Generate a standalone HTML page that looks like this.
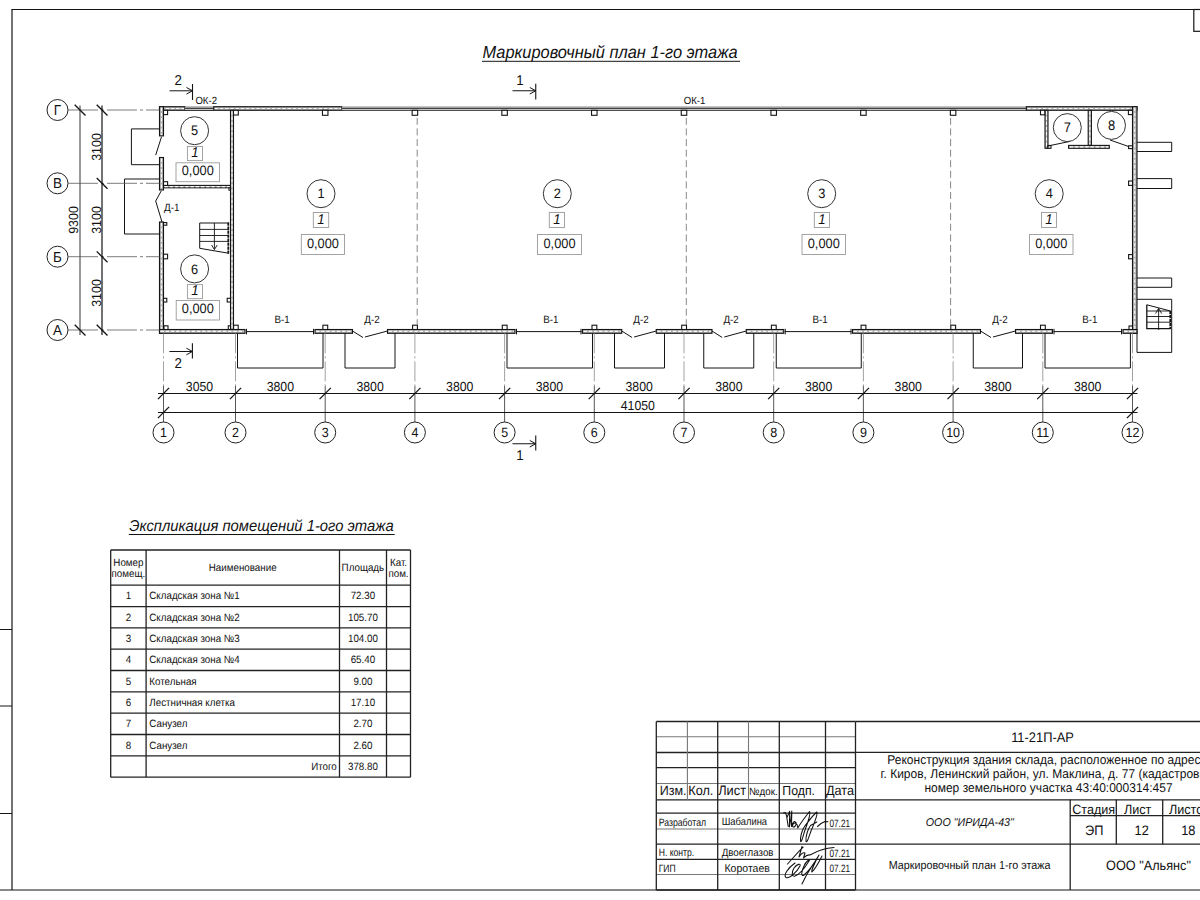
<!DOCTYPE html>
<html><head><meta charset="utf-8">
<style>
html,body{margin:0;padding:0;background:#fff;}
body{width:1200px;height:900px;overflow:hidden;position:relative;font-family:"Liberation Sans",sans-serif;}
svg{position:absolute;left:0;top:0;}
</style></head><body>
<svg width="1200" height="900" viewBox="0 0 1200 900" font-family="Liberation Sans, sans-serif" text-rendering="geometricPrecision">
<line x1="11.4" y1="9.5" x2="1200" y2="9.5" stroke="#141414" stroke-width="1.2" />
<line x1="12" y1="9.5" x2="12" y2="890" stroke="#141414" stroke-width="1.2" />
<line x1="0" y1="890" x2="1200" y2="890" stroke="#141414" stroke-width="1.2" />
<line x1="0" y1="629.5" x2="12" y2="629.5" stroke="#141414" stroke-width="1" />
<line x1="0" y1="706" x2="12" y2="706" stroke="#141414" stroke-width="1" />
<line x1="0" y1="813.5" x2="12" y2="813.5" stroke="#141414" stroke-width="1" />
<rect x="1193.8" y="9.5" width="20" height="21.8" stroke="#141414" stroke-width="1.2" fill="none" />
<text x="0" y="0" font-size="16.4" text-anchor="start" fill="#111" transform="translate(482.5 58.1) scale(1 1.07)" font-style="italic">Маркировочный план 1-го этажа</text>
<line x1="482" y1="61.3" x2="740" y2="61.3" stroke="#141414" stroke-width="1" />
<rect x="159.5" y="106.7" width="25.5" height="3.5999999999999943" stroke="#141414" stroke-width="1.1" fill="#b0b0b0" />
<line x1="160.5" y1="108.5" x2="184" y2="108.5" stroke="#fafafa" stroke-width="1.1" stroke-dasharray="3.4,1.8"/>
<rect x="185" y="106.7" width="28.75" height="3.5999999999999943" fill="#fff"/>
<line x1="185" y1="107.0" x2="213.75" y2="107.0" stroke="#8a8a8a" stroke-width="1.1" />
<line x1="185" y1="108.3" x2="213.75" y2="108.3" stroke="#141414" stroke-width="1" />
<line x1="185" y1="110.3" x2="213.75" y2="110.3" stroke="#141414" stroke-width="1.1" />
<rect x="213.75" y="106.7" width="128.25" height="3.5999999999999943" stroke="#141414" stroke-width="1.1" fill="#b0b0b0" />
<line x1="214.75" y1="108.5" x2="341" y2="108.5" stroke="#fafafa" stroke-width="1.1" stroke-dasharray="3.4,1.8"/>
<rect x="342" y="106.7" width="684.4000000000001" height="3.5999999999999943" fill="#fff"/>
<line x1="342" y1="107.0" x2="1026.4" y2="107.0" stroke="#8a8a8a" stroke-width="1.1" />
<line x1="342" y1="108.3" x2="1026.4" y2="108.3" stroke="#141414" stroke-width="1" />
<line x1="342" y1="110.3" x2="1026.4" y2="110.3" stroke="#141414" stroke-width="1.1" />
<rect x="1026.4" y="106.7" width="110.59999999999991" height="3.5999999999999943" stroke="#141414" stroke-width="1.1" fill="#b0b0b0" />
<line x1="1027.4" y1="108.5" x2="1136" y2="108.5" stroke="#fafafa" stroke-width="1.1" stroke-dasharray="3.4,1.8"/>
<rect x="159.5" y="106.7" width="4.0" height="29.200000000000003" stroke="#141414" stroke-width="1.1" fill="#b0b0b0" />
<line x1="161.5" y1="107.7" x2="161.5" y2="134.9" stroke="#fafafa" stroke-width="1.1" stroke-dasharray="3.4,1.8"/>
<rect x="159.5" y="157.5" width="4.0" height="32.5" stroke="#141414" stroke-width="1.1" fill="#b0b0b0" />
<line x1="161.5" y1="158.5" x2="161.5" y2="189" stroke="#fafafa" stroke-width="1.1" stroke-dasharray="3.4,1.8"/>
<rect x="159.5" y="222" width="4.0" height="111.30000000000001" stroke="#141414" stroke-width="1.1" fill="#b0b0b0" />
<line x1="161.5" y1="223" x2="161.5" y2="332.3" stroke="#fafafa" stroke-width="1.1" stroke-dasharray="3.4,1.8"/>
<rect x="1132.5" y="106.7" width="4.5" height="226.60000000000002" stroke="#141414" stroke-width="1.1" fill="#b0b0b0" />
<line x1="1134.75" y1="107.7" x2="1134.75" y2="332.3" stroke="#fafafa" stroke-width="1.1" stroke-dasharray="3.4,1.8"/>
<rect x="159.5" y="329.5" width="85.5" height="3.8000000000000114" stroke="#141414" stroke-width="1.1" fill="#b0b0b0" />
<line x1="160.5" y1="331.4" x2="244" y2="331.4" stroke="#fafafa" stroke-width="1.1" stroke-dasharray="3.4,1.8"/>
<line x1="246" y1="331.6" x2="314" y2="331.6" stroke="#141414" stroke-width="1" />
<line x1="246.5" y1="328.8" x2="246.5" y2="334.4" stroke="#141414" stroke-width="1" />
<line x1="313.5" y1="328.8" x2="313.5" y2="334.4" stroke="#141414" stroke-width="1" />
<rect x="315" y="329.5" width="37.5" height="3.8000000000000114" stroke="#141414" stroke-width="1.1" fill="#b0b0b0" />
<line x1="316" y1="331.4" x2="351.5" y2="331.4" stroke="#fafafa" stroke-width="1.1" stroke-dasharray="3.4,1.8"/>
<polyline points="352.5,331 363.0,337.5" stroke="#141414" stroke-width="1" fill="none"/>
<polyline points="365.0,337 387.5,331" stroke="#141414" stroke-width="1" fill="none"/>
<rect x="387.5" y="329.5" width="127.5" height="3.8000000000000114" stroke="#141414" stroke-width="1.1" fill="#b0b0b0" />
<line x1="388.5" y1="331.4" x2="514" y2="331.4" stroke="#fafafa" stroke-width="1.1" stroke-dasharray="3.4,1.8"/>
<line x1="516" y1="331.6" x2="581.5" y2="331.6" stroke="#141414" stroke-width="1" />
<line x1="516.5" y1="328.8" x2="516.5" y2="334.4" stroke="#141414" stroke-width="1" />
<line x1="581.0" y1="328.8" x2="581.0" y2="334.4" stroke="#141414" stroke-width="1" />
<rect x="582.5" y="329.5" width="39.25" height="3.8000000000000114" stroke="#141414" stroke-width="1.1" fill="#b0b0b0" />
<line x1="583.5" y1="331.4" x2="620.75" y2="331.4" stroke="#fafafa" stroke-width="1.1" stroke-dasharray="3.4,1.8"/>
<polyline points="621.75,331 632.1,337.5" stroke="#141414" stroke-width="1" fill="none"/>
<polyline points="634.1,337 656.25,331" stroke="#141414" stroke-width="1" fill="none"/>
<rect x="656.25" y="329.5" width="55.75" height="3.8000000000000114" stroke="#141414" stroke-width="1.1" fill="#b0b0b0" />
<line x1="657.25" y1="331.4" x2="711" y2="331.4" stroke="#fafafa" stroke-width="1.1" stroke-dasharray="3.4,1.8"/>
<polyline points="712,331 722.275,337.5" stroke="#141414" stroke-width="1" fill="none"/>
<polyline points="724.275,337 746.25,331" stroke="#141414" stroke-width="1" fill="none"/>
<rect x="746.25" y="329.5" width="37.5" height="3.8000000000000114" stroke="#141414" stroke-width="1.1" fill="#b0b0b0" />
<line x1="747.25" y1="331.4" x2="782.75" y2="331.4" stroke="#fafafa" stroke-width="1.1" stroke-dasharray="3.4,1.8"/>
<line x1="784.75" y1="331.6" x2="851.5" y2="331.6" stroke="#141414" stroke-width="1" />
<line x1="785.25" y1="328.8" x2="785.25" y2="334.4" stroke="#141414" stroke-width="1" />
<line x1="851.0" y1="328.8" x2="851.0" y2="334.4" stroke="#141414" stroke-width="1" />
<rect x="852.5" y="329.5" width="128.0" height="3.8000000000000114" stroke="#141414" stroke-width="1.1" fill="#b0b0b0" />
<line x1="853.5" y1="331.4" x2="979.5" y2="331.4" stroke="#fafafa" stroke-width="1.1" stroke-dasharray="3.4,1.8"/>
<polyline points="980.5,331 991.0,337.5" stroke="#141414" stroke-width="1" fill="none"/>
<polyline points="993.0,337 1015.5,331" stroke="#141414" stroke-width="1" fill="none"/>
<rect x="1015.5" y="329.5" width="37.0" height="3.8000000000000114" stroke="#141414" stroke-width="1.1" fill="#b0b0b0" />
<line x1="1016.5" y1="331.4" x2="1051.5" y2="331.4" stroke="#fafafa" stroke-width="1.1" stroke-dasharray="3.4,1.8"/>
<line x1="1053.5" y1="331.6" x2="1122" y2="331.6" stroke="#141414" stroke-width="1" />
<line x1="1054.0" y1="328.8" x2="1054.0" y2="334.4" stroke="#141414" stroke-width="1" />
<line x1="1121.5" y1="328.8" x2="1121.5" y2="334.4" stroke="#141414" stroke-width="1" />
<rect x="1123" y="329.5" width="14" height="3.8000000000000114" stroke="#141414" stroke-width="1.1" fill="#b0b0b0" />
<line x1="1124" y1="331.4" x2="1136" y2="331.4" stroke="#fafafa" stroke-width="1.1" stroke-dasharray="3.4,1.8"/>
<text x="0" y="0" font-size="9.8" text-anchor="middle" fill="#111" transform="translate(282.0 323) scale(1 1.07)" >В-1</text>
<text x="0" y="0" font-size="9.8" text-anchor="middle" fill="#111" transform="translate(372.0 323) scale(1 1.07)" >Д-2</text>
<text x="0" y="0" font-size="9.8" text-anchor="middle" fill="#111" transform="translate(550.75 323) scale(1 1.07)" >В-1</text>
<text x="0" y="0" font-size="9.8" text-anchor="middle" fill="#111" transform="translate(641.0 323) scale(1 1.07)" >Д-2</text>
<text x="0" y="0" font-size="9.8" text-anchor="middle" fill="#111" transform="translate(731.125 323) scale(1 1.07)" >Д-2</text>
<text x="0" y="0" font-size="9.8" text-anchor="middle" fill="#111" transform="translate(820.125 323) scale(1 1.07)" >В-1</text>
<text x="0" y="0" font-size="9.8" text-anchor="middle" fill="#111" transform="translate(1000.0 323) scale(1 1.07)" >Д-2</text>
<text x="0" y="0" font-size="9.8" text-anchor="middle" fill="#111" transform="translate(1089.75 323) scale(1 1.07)" >В-1</text>
<rect x="230.5" y="110.3" width="3.0" height="219.2" stroke="#141414" stroke-width="1.1" fill="#b0b0b0" />
<line x1="232.0" y1="111.3" x2="232.0" y2="328.5" stroke="#fafafa" stroke-width="1.1" stroke-dasharray="3.4,1.8"/>
<rect x="163.5" y="185.4" width="67.0" height="2.4000000000000057" stroke="#141414" stroke-width="1.1" fill="#b0b0b0" />
<line x1="164.5" y1="186.60000000000002" x2="229.5" y2="186.60000000000002" stroke="#fafafa" stroke-width="1.1" stroke-dasharray="3.4,1.8"/>
<rect x="1045" y="110.3" width="3" height="38.000000000000014" stroke="#141414" stroke-width="1.1" fill="#b0b0b0" />
<line x1="1046.5" y1="111.3" x2="1046.5" y2="147.3" stroke="#fafafa" stroke-width="1.1" stroke-dasharray="3.4,1.8"/>
<rect x="1088.2" y="110.3" width="3.2000000000000455" height="35.10000000000001" stroke="#141414" stroke-width="1.1" fill="#b0b0b0" />
<line x1="1089.8000000000002" y1="111.3" x2="1089.8000000000002" y2="144.4" stroke="#fafafa" stroke-width="1.1" stroke-dasharray="3.4,1.8"/>
<rect x="1068.6" y="145.4" width="40.700000000000045" height="2.9000000000000057" stroke="#141414" stroke-width="1.1" fill="#b0b0b0" />
<line x1="1069.6" y1="146.85000000000002" x2="1108.3" y2="146.85000000000002" stroke="#fafafa" stroke-width="1.1" stroke-dasharray="3.4,1.8"/>
<rect x="163.5" y="110.3" width="4.099999999999994" height="4.299999999999997" stroke="#141414" stroke-width="1.1" fill="#fff" />
<rect x="233.5" y="110.3" width="4.800000000000011" height="4.700000000000003" stroke="#141414" stroke-width="1.1" fill="#fff" />
<rect x="322.45" y="110.3" width="5.5" height="5.0" stroke="#141414" stroke-width="1.1" fill="#fff" />
<rect x="412.15" y="110.3" width="5.5" height="5.0" stroke="#141414" stroke-width="1.1" fill="#fff" />
<rect x="501.85" y="110.3" width="5.5" height="5.0" stroke="#141414" stroke-width="1.1" fill="#fff" />
<rect x="591.55" y="110.3" width="5.5" height="5.0" stroke="#141414" stroke-width="1.1" fill="#fff" />
<rect x="681.25" y="110.3" width="5.5" height="5.0" stroke="#141414" stroke-width="1.1" fill="#fff" />
<rect x="770.95" y="110.3" width="5.5" height="5.0" stroke="#141414" stroke-width="1.1" fill="#fff" />
<rect x="860.65" y="110.3" width="5.5" height="5.0" stroke="#141414" stroke-width="1.1" fill="#fff" />
<rect x="950.35" y="110.3" width="5.5" height="5.0" stroke="#141414" stroke-width="1.1" fill="#fff" />
<rect x="1040.5" y="110.3" width="4.2999999999999545" height="4.5" stroke="#141414" stroke-width="1.1" fill="#fff" />
<rect x="1128.4" y="110.3" width="4.099999999999909" height="4.299999999999997" stroke="#141414" stroke-width="1.1" fill="#fff" />
<rect x="164" y="325.8" width="4" height="3.6999999999999886" stroke="#141414" stroke-width="1.1" fill="#fff" />
<rect x="228.3" y="325.8" width="2.1999999999999886" height="3.6999999999999886" stroke="#141414" stroke-width="1.1" fill="#fff" />
<rect x="233.6" y="325.2" width="4.599999999999994" height="4.300000000000011" stroke="#141414" stroke-width="1.1" fill="#fff" />
<rect x="322.9" y="325.2" width="4.800000000000011" height="4.300000000000011" stroke="#141414" stroke-width="1.1" fill="#fff" />
<rect x="412.59999999999997" y="325.2" width="4.800000000000011" height="4.300000000000011" stroke="#141414" stroke-width="1.1" fill="#fff" />
<rect x="502.3" y="325.2" width="4.800000000000011" height="4.300000000000011" stroke="#141414" stroke-width="1.1" fill="#fff" />
<rect x="592.0" y="325.2" width="4.7999999999999545" height="4.300000000000011" stroke="#141414" stroke-width="1.1" fill="#fff" />
<rect x="681.7" y="325.2" width="4.7999999999999545" height="4.300000000000011" stroke="#141414" stroke-width="1.1" fill="#fff" />
<rect x="771.4000000000001" y="325.2" width="4.7999999999999545" height="4.300000000000011" stroke="#141414" stroke-width="1.1" fill="#fff" />
<rect x="861.1" y="325.2" width="4.7999999999999545" height="4.300000000000011" stroke="#141414" stroke-width="1.1" fill="#fff" />
<rect x="950.8000000000001" y="325.2" width="4.7999999999999545" height="4.300000000000011" stroke="#141414" stroke-width="1.1" fill="#fff" />
<rect x="1040.5000000000002" y="325.2" width="4.7999999999999545" height="4.300000000000011" stroke="#141414" stroke-width="1.1" fill="#fff" />
<rect x="1129" y="326" width="3.5" height="3.5" stroke="#141414" stroke-width="1.1" fill="#fff" />
<rect x="163.5" y="181.7" width="4.099999999999994" height="3.700000000000017" stroke="#141414" stroke-width="1.1" fill="#fff" />
<rect x="163.5" y="222.6" width="3.3000000000000114" height="2.5999999999999943" stroke="#141414" stroke-width="1.1" fill="#fff" />
<rect x="163.5" y="254.2" width="4.099999999999994" height="4.600000000000023" stroke="#141414" stroke-width="1.1" fill="#fff" />
<rect x="1128.6" y="181" width="3.900000000000091" height="4.400000000000006" stroke="#141414" stroke-width="1.1" fill="#fff" />
<rect x="1128.6" y="254.6" width="3.900000000000091" height="4.200000000000017" stroke="#141414" stroke-width="1.1" fill="#fff" />
<rect x="229" y="187.8" width="1.5" height="2.3999999999999773" stroke="#141414" stroke-width="1.1" fill="#fff" />
<rect x="163.5" y="298.3" width="3.3000000000000114" height="3.6999999999999886" stroke="#141414" stroke-width="1.1" fill="#fff" />
<rect x="227.2" y="298.3" width="3.3000000000000114" height="3.6999999999999886" stroke="#141414" stroke-width="1.1" fill="#fff" />
<rect x="1128.6" y="145.8" width="3.900000000000091" height="2.799999999999983" stroke="#141414" stroke-width="1.1" fill="#fff" />
<rect x="1048" y="145.5" width="3" height="2.8000000000000114" stroke="#141414" stroke-width="1.1" fill="#fff" />
<line x1="417.2" y1="117.8" x2="417.2" y2="325" stroke="#7a7a7a" stroke-width="0.9" stroke-dasharray="7,3.6"/>
<line x1="686.3" y1="117.8" x2="686.3" y2="325" stroke="#7a7a7a" stroke-width="0.9" stroke-dasharray="7,3.6"/>
<line x1="950.6" y1="117.8" x2="950.6" y2="325" stroke="#7a7a7a" stroke-width="0.9" stroke-dasharray="7,3.6"/>
<polyline points="161.5,136.8 155.7,155.1" stroke="#141414" stroke-width="1" fill="none"/>
<polyline points="161.2,191 155.7,201 162,222" stroke="#141414" stroke-width="1" fill="none"/>
<text x="0" y="0" font-size="9.9" text-anchor="middle" fill="#111" transform="translate(171.8 211) scale(1 1.07)" >Д-1</text>
<polyline points="1047.8,146 1070,141.4" stroke="#141414" stroke-width="1" fill="none"/>
<polyline points="1110,140 1128.6,146.5" stroke="#141414" stroke-width="1" fill="none"/>
<polyline points="229,223 199.7,223 199.7,248.3 229,253.3" stroke="#141414" stroke-width="1" fill="none"/>
<line x1="199.7" y1="229.4" x2="229" y2="229.4" stroke="#141414" stroke-width="0.9" />
<line x1="199.7" y1="235.5" x2="229" y2="235.5" stroke="#141414" stroke-width="0.9" />
<line x1="199.7" y1="241.4" x2="229" y2="241.4" stroke="#141414" stroke-width="0.9" />
<line x1="214.4" y1="223" x2="214.4" y2="249" stroke="#141414" stroke-width="0.9" />
<polyline points="211.6,245 214.4,249.6 217.2,245" stroke="#141414" stroke-width="0.9" fill="none"/>
<line x1="228.3" y1="222.5" x2="228.3" y2="253.5" stroke="#141414" stroke-width="1.8" stroke-dasharray="3.2,0.8"/>
<polyline points="159.5,128.9 131.4,128.9 131.4,164.7 159.5,164.7" stroke="#141414" stroke-width="1" fill="none"/>
<polyline points="159.5,179 124.5,179 124.5,234 159.5,234" stroke="#141414" stroke-width="1" fill="none"/>
<polyline points="237.5,333.3 237.5,368 323,368 323,333.3" stroke="#141414" stroke-width="1" fill="none"/>
<polyline points="345,333.3 345,368 395,368 395,333.3" stroke="#141414" stroke-width="1" fill="none"/>
<polyline points="507,333.3 507,368 592.5,368 592.5,333.3" stroke="#141414" stroke-width="1" fill="none"/>
<polyline points="614.5,333.3 614.5,368 664.5,368 664.5,333.3" stroke="#141414" stroke-width="1" fill="none"/>
<polyline points="703.75,333.3 703.75,368 753.75,368 753.75,333.3" stroke="#141414" stroke-width="1" fill="none"/>
<polyline points="776.25,333.3 776.25,368 861.25,368 861.25,333.3" stroke="#141414" stroke-width="1" fill="none"/>
<polyline points="973.25,333.3 973.25,368 1022.5,368 1022.5,333.3" stroke="#141414" stroke-width="1" fill="none"/>
<polyline points="1045,333.3 1045,368 1130.4,368 1130.4,333.3" stroke="#141414" stroke-width="1" fill="none"/>
<polyline points="1137,142.3 1171.7,142.3 1171.7,151.5 1137,151.5" stroke="#141414" stroke-width="1" fill="none"/>
<polyline points="1137,178.6 1171.7,178.6 1171.7,188.5 1137,188.5" stroke="#141414" stroke-width="1" fill="none"/>
<polyline points="1137,278 1171.7,278 1171.7,287.3 1137,287.3" stroke="#141414" stroke-width="1" fill="none"/>
<polyline points="1137,299.3 1171.7,299.3 1171.7,352.4 1137,352.4 1137,333.3" stroke="#141414" stroke-width="1" fill="none"/>
<polyline points="1146.8,304.8 1170.5,311" stroke="#141414" stroke-width="1" fill="none"/>
<polyline points="1146.8,304.8 1146.8,328.6 1170.5,328.6" stroke="#141414" stroke-width="1.3" fill="none"/>
<line x1="1146.8" y1="311" x2="1170.5" y2="311" stroke="#141414" stroke-width="0.9" />
<line x1="1146.8" y1="316.5" x2="1170.5" y2="316.5" stroke="#141414" stroke-width="0.9" />
<line x1="1146.8" y1="322.2" x2="1170.5" y2="322.2" stroke="#141414" stroke-width="0.9" />
<line x1="1170.3" y1="311" x2="1170.3" y2="329" stroke="#141414" stroke-width="1.8" stroke-dasharray="3.2,0.8"/>
<line x1="1158.6" y1="308.5" x2="1158.6" y2="328.6" stroke="#141414" stroke-width="0.9" />
<polyline points="1155.6,313.5 1158.6,308.3 1161.6,313.5" stroke="#141414" stroke-width="0.9" fill="none"/>
<circle cx="1158.6" cy="328.8" r="0.9" fill="#111"/>
<circle cx="321" cy="193.7" r="14" stroke="#333" stroke-width="1" fill="none"/>
<text x="0" y="0" font-size="12.8" text-anchor="middle" fill="#111" transform="translate(321 198.29999999999998) scale(1 1.07)" >1</text>
<rect x="313.3" y="212.5" width="15.399999999999977" height="15.0" stroke="#9a9a9a" stroke-width="0.9" fill="none" />
<text x="0" y="0" font-size="13.3" text-anchor="middle" fill="#111" transform="translate(321.0 224.2) scale(1 1.07)" font-style="italic">1</text>
<rect x="301.3" y="234.5" width="43.19999999999999" height="20.0" stroke="#9a9a9a" stroke-width="0.9" fill="none" />
<text x="0" y="0" font-size="12.8" text-anchor="middle" fill="#111" transform="translate(322.9 247.9) scale(1 1.07)" >0,000</text>
<circle cx="557.3" cy="193.7" r="14" stroke="#333" stroke-width="1" fill="none"/>
<text x="0" y="0" font-size="12.8" text-anchor="middle" fill="#111" transform="translate(557.3 198.29999999999998) scale(1 1.07)" >2</text>
<rect x="549.3" y="212.5" width="15.200000000000045" height="15.0" stroke="#9a9a9a" stroke-width="0.9" fill="none" />
<text x="0" y="0" font-size="13.3" text-anchor="middle" fill="#111" transform="translate(556.9 224.2) scale(1 1.07)" font-style="italic">1</text>
<rect x="537.5" y="234.5" width="44.0" height="20.0" stroke="#9a9a9a" stroke-width="0.9" fill="none" />
<text x="0" y="0" font-size="12.8" text-anchor="middle" fill="#111" transform="translate(559.5 247.9) scale(1 1.07)" >0,000</text>
<circle cx="821.7" cy="193.7" r="14" stroke="#333" stroke-width="1" fill="none"/>
<text x="0" y="0" font-size="12.8" text-anchor="middle" fill="#111" transform="translate(821.7 198.29999999999998) scale(1 1.07)" >3</text>
<rect x="814.3" y="212.5" width="15.200000000000045" height="15.0" stroke="#9a9a9a" stroke-width="0.9" fill="none" />
<text x="0" y="0" font-size="13.3" text-anchor="middle" fill="#111" transform="translate(821.9 224.2) scale(1 1.07)" font-style="italic">1</text>
<rect x="802" y="234.5" width="43.5" height="20.0" stroke="#9a9a9a" stroke-width="0.9" fill="none" />
<text x="0" y="0" font-size="12.8" text-anchor="middle" fill="#111" transform="translate(823.75 247.9) scale(1 1.07)" >0,000</text>
<circle cx="1049.2" cy="193.7" r="14" stroke="#333" stroke-width="1" fill="none"/>
<text x="0" y="0" font-size="12.8" text-anchor="middle" fill="#111" transform="translate(1049.2 198.29999999999998) scale(1 1.07)" >4</text>
<rect x="1041.5" y="212.5" width="15.0" height="15.0" stroke="#9a9a9a" stroke-width="0.9" fill="none" />
<text x="0" y="0" font-size="13.3" text-anchor="middle" fill="#111" transform="translate(1049.0 224.2) scale(1 1.07)" font-style="italic">1</text>
<rect x="1029.5" y="234.5" width="43.5" height="20.0" stroke="#9a9a9a" stroke-width="0.9" fill="none" />
<text x="0" y="0" font-size="12.8" text-anchor="middle" fill="#111" transform="translate(1051.25 247.9) scale(1 1.07)" >0,000</text>
<circle cx="194.6" cy="130.7" r="14" stroke="#333" stroke-width="1" fill="none"/>
<text x="0" y="0" font-size="12.8" text-anchor="middle" fill="#111" transform="translate(194.6 135.29999999999998) scale(1 1.07)" >5</text>
<rect x="187.4" y="146.5" width="15.099999999999994" height="14.099999999999994" stroke="#9a9a9a" stroke-width="0.9" fill="none" />
<text x="0" y="0" font-size="13.3" text-anchor="middle" fill="#111" transform="translate(194.95 157.29999999999998) scale(1 1.07)" font-style="italic">1</text>
<rect x="176" y="162.8" width="43.5" height="18.899999999999977" stroke="#9a9a9a" stroke-width="0.9" fill="none" />
<text x="0" y="0" font-size="12.8" text-anchor="middle" fill="#111" transform="translate(197.75 175.1) scale(1 1.07)" >0,000</text>
<circle cx="194.6" cy="268.9" r="14" stroke="#333" stroke-width="1" fill="none"/>
<text x="0" y="0" font-size="12.8" text-anchor="middle" fill="#111" transform="translate(194.6 273.5) scale(1 1.07)" >6</text>
<rect x="187.4" y="284.6" width="15.099999999999994" height="14.099999999999966" stroke="#9a9a9a" stroke-width="0.9" fill="none" />
<text x="0" y="0" font-size="13.3" text-anchor="middle" fill="#111" transform="translate(194.95 295.4) scale(1 1.07)" font-style="italic">1</text>
<rect x="176.2" y="300.5" width="43.30000000000001" height="19.5" stroke="#9a9a9a" stroke-width="0.9" fill="none" />
<text x="0" y="0" font-size="12.8" text-anchor="middle" fill="#111" transform="translate(197.85 313.4) scale(1 1.07)" >0,000</text>
<circle cx="1067.3" cy="127.6" r="14" stroke="#333" stroke-width="1" fill="none"/>
<text x="0" y="0" font-size="13" text-anchor="middle" fill="#111" transform="translate(1067.3 132.2) scale(1 1.07)" >7</text>
<circle cx="1111.5" cy="125.4" r="14" stroke="#333" stroke-width="1" fill="none"/>
<text x="0" y="0" font-size="13" text-anchor="middle" fill="#111" transform="translate(1111.5 130) scale(1 1.07)" >8</text>
<text x="0" y="0" font-size="9.6" text-anchor="start" fill="#111" transform="translate(195.4 103.8) scale(1 1.07)" >ОК-2</text>
<text x="0" y="0" font-size="9.6" text-anchor="start" fill="#111" transform="translate(683.8 103.8) scale(1 1.07)" >ОК-1</text>
<circle cx="57.5" cy="110" r="10.5" stroke="#222" stroke-width="1" fill="none"/>
<text x="0" y="0" font-size="13.5" text-anchor="middle" fill="#111" transform="translate(57.5 114.8) scale(1 1.07)" >Г</text>
<line x1="68" y1="110" x2="159.5" y2="110" stroke="#5a5a5a" stroke-width="0.8" stroke-dasharray="30,3,3,3"/>
<circle cx="57.5" cy="183.3" r="10.5" stroke="#222" stroke-width="1" fill="none"/>
<text x="0" y="0" font-size="13.5" text-anchor="middle" fill="#111" transform="translate(57.5 188.10000000000002) scale(1 1.07)" >В</text>
<line x1="68" y1="183.3" x2="159.5" y2="183.3" stroke="#5a5a5a" stroke-width="0.8" stroke-dasharray="30,3,3,3"/>
<circle cx="57.5" cy="256.7" r="10.5" stroke="#222" stroke-width="1" fill="none"/>
<text x="0" y="0" font-size="13.5" text-anchor="middle" fill="#111" transform="translate(57.5 261.5) scale(1 1.07)" >Б</text>
<line x1="68" y1="256.7" x2="159.5" y2="256.7" stroke="#5a5a5a" stroke-width="0.8" stroke-dasharray="30,3,3,3"/>
<circle cx="57.5" cy="330" r="10.5" stroke="#222" stroke-width="1" fill="none"/>
<text x="0" y="0" font-size="13.5" text-anchor="middle" fill="#111" transform="translate(57.5 334.8) scale(1 1.07)" >А</text>
<line x1="68" y1="330" x2="159.5" y2="330" stroke="#5a5a5a" stroke-width="0.8" stroke-dasharray="30,3,3,3"/>
<line x1="80" y1="105.5" x2="80" y2="335" stroke="#555" stroke-width="1.2" />
<line x1="102" y1="105.5" x2="102" y2="335" stroke="#141414" stroke-width="1.2" />
<line x1="74.7" y1="104.7" x2="85.5" y2="115.5" stroke="#141414" stroke-width="1.3" />
<line x1="74.7" y1="324.7" x2="85.5" y2="335.5" stroke="#141414" stroke-width="1.3" />
<line x1="96.7" y1="104.7" x2="107.5" y2="115.5" stroke="#141414" stroke-width="1.3" />
<line x1="96.7" y1="178.0" x2="107.5" y2="188.8" stroke="#141414" stroke-width="1.3" />
<line x1="96.7" y1="251.39999999999998" x2="107.5" y2="262.2" stroke="#141414" stroke-width="1.3" />
<line x1="96.7" y1="324.7" x2="107.5" y2="335.5" stroke="#141414" stroke-width="1.3" />
<text x="0" y="0" font-size="12.4" text-anchor="middle" fill="#111" transform="translate(77.8 220) rotate(-90) scale(1 1.07)">9300</text>
<text x="0" y="0" font-size="12.4" text-anchor="middle" fill="#111" transform="translate(100.5 147) rotate(-90) scale(1 1.07)">3100</text>
<text x="0" y="0" font-size="12.4" text-anchor="middle" fill="#111" transform="translate(100.5 220) rotate(-90) scale(1 1.07)">3100</text>
<text x="0" y="0" font-size="12.4" text-anchor="middle" fill="#111" transform="translate(100.5 293) rotate(-90) scale(1 1.07)">3100</text>
<line x1="163.5" y1="333.3" x2="163.5" y2="386" stroke="#8a8a8a" stroke-width="0.8" stroke-dasharray="20,3,2,3"/>
<line x1="163.5" y1="386" x2="163.5" y2="422" stroke="#444" stroke-width="0.9" />
<circle cx="163.5" cy="432.5" r="10.5" stroke="#222" stroke-width="1" fill="none"/>
<text x="0" y="0" font-size="12.5" text-anchor="middle" fill="#111" transform="translate(163.5 437.0) scale(1 1.07)" >1</text>
<line x1="235.5" y1="333.3" x2="235.5" y2="386" stroke="#8a8a8a" stroke-width="0.8" stroke-dasharray="20,3,2,3"/>
<line x1="235.5" y1="386" x2="235.5" y2="422" stroke="#444" stroke-width="0.9" />
<circle cx="235.5" cy="432.5" r="10.5" stroke="#222" stroke-width="1" fill="none"/>
<text x="0" y="0" font-size="12.5" text-anchor="middle" fill="#111" transform="translate(235.5 437.0) scale(1 1.07)" >2</text>
<line x1="325.2" y1="333.3" x2="325.2" y2="386" stroke="#8a8a8a" stroke-width="0.8" stroke-dasharray="20,3,2,3"/>
<line x1="325.2" y1="386" x2="325.2" y2="422" stroke="#444" stroke-width="0.9" />
<circle cx="325.2" cy="432.5" r="10.5" stroke="#222" stroke-width="1" fill="none"/>
<text x="0" y="0" font-size="12.5" text-anchor="middle" fill="#111" transform="translate(325.2 437.0) scale(1 1.07)" >3</text>
<line x1="414.9" y1="333.3" x2="414.9" y2="386" stroke="#8a8a8a" stroke-width="0.8" stroke-dasharray="20,3,2,3"/>
<line x1="414.9" y1="386" x2="414.9" y2="422" stroke="#444" stroke-width="0.9" />
<circle cx="414.9" cy="432.5" r="10.5" stroke="#222" stroke-width="1" fill="none"/>
<text x="0" y="0" font-size="12.5" text-anchor="middle" fill="#111" transform="translate(414.9 437.0) scale(1 1.07)" >4</text>
<line x1="504.6" y1="333.3" x2="504.6" y2="386" stroke="#8a8a8a" stroke-width="0.8" stroke-dasharray="20,3,2,3"/>
<line x1="504.6" y1="386" x2="504.6" y2="422" stroke="#444" stroke-width="0.9" />
<circle cx="504.6" cy="432.5" r="10.5" stroke="#222" stroke-width="1" fill="none"/>
<text x="0" y="0" font-size="12.5" text-anchor="middle" fill="#111" transform="translate(504.6 437.0) scale(1 1.07)" >5</text>
<line x1="594.3" y1="333.3" x2="594.3" y2="386" stroke="#8a8a8a" stroke-width="0.8" stroke-dasharray="20,3,2,3"/>
<line x1="594.3" y1="386" x2="594.3" y2="422" stroke="#444" stroke-width="0.9" />
<circle cx="594.3" cy="432.5" r="10.5" stroke="#222" stroke-width="1" fill="none"/>
<text x="0" y="0" font-size="12.5" text-anchor="middle" fill="#111" transform="translate(594.3 437.0) scale(1 1.07)" >6</text>
<line x1="684.0" y1="333.3" x2="684.0" y2="386" stroke="#8a8a8a" stroke-width="0.8" stroke-dasharray="20,3,2,3"/>
<line x1="684.0" y1="386" x2="684.0" y2="422" stroke="#444" stroke-width="0.9" />
<circle cx="684.0" cy="432.5" r="10.5" stroke="#222" stroke-width="1" fill="none"/>
<text x="0" y="0" font-size="12.5" text-anchor="middle" fill="#111" transform="translate(684.0 437.0) scale(1 1.07)" >7</text>
<line x1="773.7" y1="333.3" x2="773.7" y2="386" stroke="#8a8a8a" stroke-width="0.8" stroke-dasharray="20,3,2,3"/>
<line x1="773.7" y1="386" x2="773.7" y2="422" stroke="#444" stroke-width="0.9" />
<circle cx="773.7" cy="432.5" r="10.5" stroke="#222" stroke-width="1" fill="none"/>
<text x="0" y="0" font-size="12.5" text-anchor="middle" fill="#111" transform="translate(773.7 437.0) scale(1 1.07)" >8</text>
<line x1="863.4" y1="333.3" x2="863.4" y2="386" stroke="#8a8a8a" stroke-width="0.8" stroke-dasharray="20,3,2,3"/>
<line x1="863.4" y1="386" x2="863.4" y2="422" stroke="#444" stroke-width="0.9" />
<circle cx="863.4" cy="432.5" r="10.5" stroke="#222" stroke-width="1" fill="none"/>
<text x="0" y="0" font-size="12.5" text-anchor="middle" fill="#111" transform="translate(863.4 437.0) scale(1 1.07)" >9</text>
<line x1="953.1" y1="333.3" x2="953.1" y2="386" stroke="#8a8a8a" stroke-width="0.8" stroke-dasharray="20,3,2,3"/>
<line x1="953.1" y1="386" x2="953.1" y2="422" stroke="#444" stroke-width="0.9" />
<circle cx="953.1" cy="432.5" r="10.5" stroke="#222" stroke-width="1" fill="none"/>
<text x="0" y="0" font-size="12.5" text-anchor="middle" fill="#111" transform="translate(953.1 437.0) scale(1 1.07)" >10</text>
<line x1="1042.8000000000002" y1="333.3" x2="1042.8000000000002" y2="386" stroke="#8a8a8a" stroke-width="0.8" stroke-dasharray="20,3,2,3"/>
<line x1="1042.8000000000002" y1="386" x2="1042.8000000000002" y2="422" stroke="#444" stroke-width="0.9" />
<circle cx="1042.8000000000002" cy="432.5" r="10.5" stroke="#222" stroke-width="1" fill="none"/>
<text x="0" y="0" font-size="12.5" text-anchor="middle" fill="#111" transform="translate(1042.8000000000002 437.0) scale(1 1.07)" >11</text>
<line x1="1132.5" y1="333.3" x2="1132.5" y2="386" stroke="#8a8a8a" stroke-width="0.8" stroke-dasharray="20,3,2,3"/>
<line x1="1132.5" y1="386" x2="1132.5" y2="422" stroke="#444" stroke-width="0.9" />
<circle cx="1132.5" cy="432.5" r="10.5" stroke="#222" stroke-width="1" fill="none"/>
<text x="0" y="0" font-size="12.5" text-anchor="middle" fill="#111" transform="translate(1132.5 437.0) scale(1 1.07)" >12</text>
<line x1="158" y1="393.5" x2="1137.5" y2="393.5" stroke="#141414" stroke-width="1" />
<line x1="158" y1="412.5" x2="1137.5" y2="412.5" stroke="#141414" stroke-width="1" />
<line x1="157.9" y1="399.1" x2="169.1" y2="387.9" stroke="#141414" stroke-width="1.3" />
<line x1="229.9" y1="399.1" x2="241.1" y2="387.9" stroke="#141414" stroke-width="1.3" />
<line x1="319.59999999999997" y1="399.1" x2="330.8" y2="387.9" stroke="#141414" stroke-width="1.3" />
<line x1="409.29999999999995" y1="399.1" x2="420.5" y2="387.9" stroke="#141414" stroke-width="1.3" />
<line x1="499.0" y1="399.1" x2="510.20000000000005" y2="387.9" stroke="#141414" stroke-width="1.3" />
<line x1="588.6999999999999" y1="399.1" x2="599.9" y2="387.9" stroke="#141414" stroke-width="1.3" />
<line x1="678.4" y1="399.1" x2="689.6" y2="387.9" stroke="#141414" stroke-width="1.3" />
<line x1="768.1" y1="399.1" x2="779.3000000000001" y2="387.9" stroke="#141414" stroke-width="1.3" />
<line x1="857.8" y1="399.1" x2="869.0" y2="387.9" stroke="#141414" stroke-width="1.3" />
<line x1="947.5" y1="399.1" x2="958.7" y2="387.9" stroke="#141414" stroke-width="1.3" />
<line x1="1037.2000000000003" y1="399.1" x2="1048.4" y2="387.9" stroke="#141414" stroke-width="1.3" />
<line x1="1126.9" y1="399.1" x2="1138.1" y2="387.9" stroke="#141414" stroke-width="1.3" />
<line x1="157.9" y1="418.1" x2="169.1" y2="406.9" stroke="#141414" stroke-width="1.3" />
<line x1="1126.9" y1="418.1" x2="1138.1" y2="406.9" stroke="#141414" stroke-width="1.3" />
<text x="0" y="0" font-size="12.3" text-anchor="middle" fill="#111" transform="translate(199.5 391.2) scale(1 1.07)" >3050</text>
<text x="0" y="0" font-size="12.3" text-anchor="middle" fill="#111" transform="translate(280.35 391.2) scale(1 1.07)" >3800</text>
<text x="0" y="0" font-size="12.3" text-anchor="middle" fill="#111" transform="translate(370.04999999999995 391.2) scale(1 1.07)" >3800</text>
<text x="0" y="0" font-size="12.3" text-anchor="middle" fill="#111" transform="translate(459.75 391.2) scale(1 1.07)" >3800</text>
<text x="0" y="0" font-size="12.3" text-anchor="middle" fill="#111" transform="translate(549.45 391.2) scale(1 1.07)" >3800</text>
<text x="0" y="0" font-size="12.3" text-anchor="middle" fill="#111" transform="translate(639.15 391.2) scale(1 1.07)" >3800</text>
<text x="0" y="0" font-size="12.3" text-anchor="middle" fill="#111" transform="translate(728.85 391.2) scale(1 1.07)" >3800</text>
<text x="0" y="0" font-size="12.3" text-anchor="middle" fill="#111" transform="translate(818.55 391.2) scale(1 1.07)" >3800</text>
<text x="0" y="0" font-size="12.3" text-anchor="middle" fill="#111" transform="translate(908.25 391.2) scale(1 1.07)" >3800</text>
<text x="0" y="0" font-size="12.3" text-anchor="middle" fill="#111" transform="translate(997.95 391.2) scale(1 1.07)" >3800</text>
<text x="0" y="0" font-size="12.3" text-anchor="middle" fill="#111" transform="translate(1087.65 391.2) scale(1 1.07)" >3800</text>
<text x="0" y="0" font-size="12.3" text-anchor="middle" fill="#111" transform="translate(637.8 409.6) scale(1 1.07)" >41050</text>
<line x1="169.5" y1="90.8" x2="192.5" y2="90.8" stroke="#141414" stroke-width="1" />
<polyline points="186.5,87.5 192.5,90.8 186.5,94.1" stroke="#141414" stroke-width="1" fill="none"/>
<line x1="192.5" y1="84" x2="192.5" y2="100" stroke="#141414" stroke-width="1.1" />
<text x="0" y="0" font-size="13.3" text-anchor="middle" fill="#111" transform="translate(178.2 85) scale(1 1.07)" >2</text>
<line x1="169.4" y1="351.5" x2="192.4" y2="351.5" stroke="#141414" stroke-width="1" />
<polyline points="186.4,348.2 192.4,351.5 186.4,354.8" stroke="#141414" stroke-width="1" fill="none"/>
<line x1="192.4" y1="343.3" x2="192.4" y2="358.5" stroke="#141414" stroke-width="1.1" />
<text x="0" y="0" font-size="13.3" text-anchor="middle" fill="#111" transform="translate(178.2 367.7) scale(1 1.07)" >2</text>
<line x1="512.5" y1="90.75" x2="535.75" y2="90.75" stroke="#141414" stroke-width="1" />
<polyline points="529.75,87.45 535.75,90.75 529.75,94.05" stroke="#141414" stroke-width="1" fill="none"/>
<line x1="535.75" y1="83.75" x2="535.75" y2="99.5" stroke="#141414" stroke-width="1.1" />
<text x="0" y="0" font-size="13.3" text-anchor="middle" fill="#111" transform="translate(520 85) scale(1 1.07)" >1</text>
<line x1="512.5" y1="443.75" x2="535.75" y2="443.75" stroke="#141414" stroke-width="1" />
<polyline points="529.75,440.45 535.75,443.75 529.75,447.05" stroke="#141414" stroke-width="1" fill="none"/>
<line x1="535.75" y1="435.5" x2="535.75" y2="450.5" stroke="#141414" stroke-width="1.1" />
<text x="0" y="0" font-size="13.3" text-anchor="middle" fill="#111" transform="translate(520 459.5) scale(1 1.07)" >1</text>
<text x="0" y="0" font-size="14.8" text-anchor="start" fill="#111" transform="translate(129.3 530.8) scale(1 1.07)" font-style="italic">Экспликация помещений 1-ого этажа</text>
<line x1="128.8" y1="534.5" x2="394.7" y2="534.5" stroke="#141414" stroke-width="1" />
<line x1="110.7" y1="550" x2="110.7" y2="777.1700000000001" stroke="#222" stroke-width="1.3" />
<line x1="146.1" y1="550" x2="146.1" y2="777.1700000000001" stroke="#222" stroke-width="1.3" />
<line x1="339.5" y1="550" x2="339.5" y2="777.1700000000001" stroke="#222" stroke-width="1.3" />
<line x1="386.5" y1="550" x2="386.5" y2="777.1700000000001" stroke="#222" stroke-width="1.3" />
<line x1="410.5" y1="550" x2="410.5" y2="777.1700000000001" stroke="#222" stroke-width="1.3" />
<line x1="110.7" y1="550" x2="410.5" y2="550" stroke="#222" stroke-width="1.3" />
<line x1="110.7" y1="585.2" x2="410.5" y2="585.2" stroke="#222" stroke-width="1.3" />
<line x1="110.7" y1="606.5300000000001" x2="410.5" y2="606.5300000000001" stroke="#222" stroke-width="1.3" />
<line x1="110.7" y1="627.86" x2="410.5" y2="627.86" stroke="#222" stroke-width="1.3" />
<line x1="110.7" y1="649.19" x2="410.5" y2="649.19" stroke="#222" stroke-width="1.3" />
<line x1="110.7" y1="670.52" x2="410.5" y2="670.52" stroke="#222" stroke-width="1.3" />
<line x1="110.7" y1="691.85" x2="410.5" y2="691.85" stroke="#222" stroke-width="1.3" />
<line x1="110.7" y1="713.1800000000001" x2="410.5" y2="713.1800000000001" stroke="#222" stroke-width="1.3" />
<line x1="110.7" y1="734.51" x2="410.5" y2="734.51" stroke="#222" stroke-width="1.3" />
<line x1="110.7" y1="755.84" x2="410.5" y2="755.84" stroke="#222" stroke-width="1.3" />
<line x1="110.7" y1="777.1700000000001" x2="410.5" y2="777.1700000000001" stroke="#222" stroke-width="1.3" />
<text x="0" y="0" font-size="9.9" text-anchor="middle" fill="#111" transform="translate(128.4 565.5) scale(0.99 1.07)">Номер</text>
<text x="0" y="0" font-size="9.9" text-anchor="middle" fill="#111" transform="translate(128.4 576.8) scale(0.99 1.07)">помещ.</text>
<text x="0" y="0" font-size="9.9" text-anchor="middle" fill="#111" transform="translate(242.7 571) scale(0.99 1.07)">Наименование</text>
<text x="0" y="0" font-size="9.9" text-anchor="middle" fill="#111" transform="translate(362.9 571) scale(0.99 1.07)">Площадь</text>
<text x="0" y="0" font-size="9.9" text-anchor="middle" fill="#111" transform="translate(398.5 565.5) scale(0.99 1.07)">Кат.</text>
<text x="0" y="0" font-size="9.9" text-anchor="middle" fill="#111" transform="translate(398.5 576.8) scale(0.99 1.07)">пом.</text>
<text x="0" y="0" font-size="9.9" text-anchor="middle" fill="#111" transform="translate(128.4 599.4000000000001) scale(0.99 1.07)">1</text>
<text x="0" y="0" font-size="9.9" text-anchor="start" fill="#111" transform="translate(149.3 599.4000000000001) scale(0.99 1.07)">Складская зона №1</text>
<text x="0" y="0" font-size="9.9" text-anchor="middle" fill="#111" transform="translate(362.9 599.4000000000001) scale(0.99 1.07)">72.30</text>
<text x="0" y="0" font-size="9.9" text-anchor="middle" fill="#111" transform="translate(128.4 620.7300000000001) scale(0.99 1.07)">2</text>
<text x="0" y="0" font-size="9.9" text-anchor="start" fill="#111" transform="translate(149.3 620.7300000000001) scale(0.99 1.07)">Складская зона №2</text>
<text x="0" y="0" font-size="9.9" text-anchor="middle" fill="#111" transform="translate(362.9 620.7300000000001) scale(0.99 1.07)">105.70</text>
<text x="0" y="0" font-size="9.9" text-anchor="middle" fill="#111" transform="translate(128.4 642.0600000000001) scale(0.99 1.07)">3</text>
<text x="0" y="0" font-size="9.9" text-anchor="start" fill="#111" transform="translate(149.3 642.0600000000001) scale(0.99 1.07)">Складская зона №3</text>
<text x="0" y="0" font-size="9.9" text-anchor="middle" fill="#111" transform="translate(362.9 642.0600000000001) scale(0.99 1.07)">104.00</text>
<text x="0" y="0" font-size="9.9" text-anchor="middle" fill="#111" transform="translate(128.4 663.3900000000001) scale(0.99 1.07)">4</text>
<text x="0" y="0" font-size="9.9" text-anchor="start" fill="#111" transform="translate(149.3 663.3900000000001) scale(0.99 1.07)">Складская зона №4</text>
<text x="0" y="0" font-size="9.9" text-anchor="middle" fill="#111" transform="translate(362.9 663.3900000000001) scale(0.99 1.07)">65.40</text>
<text x="0" y="0" font-size="9.9" text-anchor="middle" fill="#111" transform="translate(128.4 684.72) scale(0.99 1.07)">5</text>
<text x="0" y="0" font-size="9.9" text-anchor="start" fill="#111" transform="translate(149.3 684.72) scale(0.99 1.07)">Котельная</text>
<text x="0" y="0" font-size="9.9" text-anchor="middle" fill="#111" transform="translate(362.9 684.72) scale(0.99 1.07)">9.00</text>
<text x="0" y="0" font-size="9.9" text-anchor="middle" fill="#111" transform="translate(128.4 706.0500000000001) scale(0.99 1.07)">6</text>
<text x="0" y="0" font-size="9.9" text-anchor="start" fill="#111" transform="translate(149.3 706.0500000000001) scale(0.99 1.07)">Лестничная клетка</text>
<text x="0" y="0" font-size="9.9" text-anchor="middle" fill="#111" transform="translate(362.9 706.0500000000001) scale(0.99 1.07)">17.10</text>
<text x="0" y="0" font-size="9.9" text-anchor="middle" fill="#111" transform="translate(128.4 727.3800000000001) scale(0.99 1.07)">7</text>
<text x="0" y="0" font-size="9.9" text-anchor="start" fill="#111" transform="translate(149.3 727.3800000000001) scale(0.99 1.07)">Санузел</text>
<text x="0" y="0" font-size="9.9" text-anchor="middle" fill="#111" transform="translate(362.9 727.3800000000001) scale(0.99 1.07)">2.70</text>
<text x="0" y="0" font-size="9.9" text-anchor="middle" fill="#111" transform="translate(128.4 748.71) scale(0.99 1.07)">8</text>
<text x="0" y="0" font-size="9.9" text-anchor="start" fill="#111" transform="translate(149.3 748.71) scale(0.99 1.07)">Санузел</text>
<text x="0" y="0" font-size="9.9" text-anchor="middle" fill="#111" transform="translate(362.9 748.71) scale(0.99 1.07)">2.60</text>
<text x="0" y="0" font-size="9.9" text-anchor="end" fill="#111" transform="translate(336.8 770.0400000000001) scale(0.99 1.07)">Итого</text>
<text x="0" y="0" font-size="9.9" text-anchor="middle" fill="#111" transform="translate(362.9 770.0400000000001) scale(0.99 1.07)">378.80</text>
<line x1="656.3" y1="721.5" x2="855.5" y2="721.5" stroke="#222" stroke-width="1.3" />
<line x1="656.3" y1="736.8" x2="855.5" y2="736.8" stroke="#777" stroke-width="1.1" />
<line x1="656.3" y1="752.5" x2="855.5" y2="752.5" stroke="#222" stroke-width="1.3" />
<line x1="656.3" y1="767.6" x2="855.5" y2="767.6" stroke="#222" stroke-width="1.3" />
<line x1="656.3" y1="783.5" x2="855.5" y2="783.5" stroke="#777" stroke-width="1.1" />
<line x1="656.3" y1="799.8" x2="855.5" y2="799.8" stroke="#222" stroke-width="1.3" />
<line x1="656.3" y1="813.1" x2="855.5" y2="813.1" stroke="#222" stroke-width="1.3" />
<line x1="656.3" y1="829" x2="855.5" y2="829" stroke="#777" stroke-width="1.1" />
<line x1="656.3" y1="844.2" x2="855.5" y2="844.2" stroke="#222" stroke-width="1.3" />
<line x1="656.3" y1="859.3" x2="855.5" y2="859.3" stroke="#222" stroke-width="1.3" />
<line x1="656.3" y1="874.5" x2="855.5" y2="874.5" stroke="#777" stroke-width="1.1" />
<line x1="656.3" y1="890" x2="855.5" y2="890" stroke="#222" stroke-width="1.3" />
<line x1="656.3" y1="721.5" x2="656.3" y2="890" stroke="#222" stroke-width="1.3" />
<line x1="687.4" y1="721.5" x2="687.4" y2="799.8" stroke="#777" stroke-width="1.1" />
<line x1="717.7" y1="721.5" x2="717.7" y2="890" stroke="#222" stroke-width="1.3" />
<line x1="748.5" y1="721.5" x2="748.5" y2="799.8" stroke="#777" stroke-width="1.1" />
<line x1="779.3" y1="721.5" x2="779.3" y2="890" stroke="#222" stroke-width="1.3" />
<line x1="825.5" y1="721.5" x2="825.5" y2="890" stroke="#222" stroke-width="1.3" />
<line x1="855.5" y1="721.5" x2="855.5" y2="890" stroke="#222" stroke-width="1.3" />
<line x1="855.5" y1="721.5" x2="1200" y2="721.5" stroke="#222" stroke-width="1.3" />
<line x1="855.5" y1="752.3" x2="1200" y2="752.3" stroke="#222" stroke-width="1.3" />
<line x1="855.5" y1="799.8" x2="1200" y2="799.8" stroke="#222" stroke-width="1.3" />
<line x1="855.5" y1="844.2" x2="1200" y2="844.2" stroke="#222" stroke-width="1.3" />
<line x1="1070.2" y1="799.8" x2="1070.2" y2="890" stroke="#222" stroke-width="1.3" />
<line x1="1116.3" y1="799.8" x2="1116.3" y2="844.2" stroke="#222" stroke-width="1.3" />
<line x1="1162.7" y1="799.8" x2="1162.7" y2="844.2" stroke="#222" stroke-width="1.3" />
<line x1="1070.2" y1="815.6" x2="1200" y2="815.6" stroke="#222" stroke-width="1.3" />
<text x="0" y="0" font-size="12.5" text-anchor="start" fill="#111" transform="translate(659.8 795.2) scale(1 1.07)" >Изм.</text>
<text x="0" y="0" font-size="12.7" text-anchor="start" fill="#111" transform="translate(688.3 795.2) scale(1 1.07)" >Кол.</text>
<text x="0" y="0" font-size="12.8" text-anchor="start" fill="#111" transform="translate(718.2 795.2) scale(1 1.07)" >Лист</text>
<text x="0" y="0" font-size="9.8" text-anchor="start" fill="#111" transform="translate(749 795.2) scale(1 1.07)" >№док.</text>
<text x="0" y="0" font-size="12.3" text-anchor="start" fill="#111" transform="translate(782.3 795.2) scale(1 1.07)" >Подп.</text>
<text x="0" y="0" font-size="12.7" text-anchor="start" fill="#111" transform="translate(826 795.2) scale(1 1.07)" >Дата</text>
<text x="0" y="0" font-size="10" text-anchor="start" fill="#111" transform="translate(658.7 826) scale(0.87 1.07)">Разработал</text>
<text x="0" y="0" font-size="10" text-anchor="start" fill="#111" transform="translate(721.7 825) scale(0.94 1.07)">Шабалина</text>
<text x="0" y="0" font-size="10" text-anchor="start" fill="#111" transform="translate(829.5 826.7) scale(0.82 1.07)">07.21</text>
<text x="0" y="0" font-size="10" text-anchor="start" fill="#111" transform="translate(658.7 855.8) scale(0.86 1.07)">Н. контр.</text>
<text x="0" y="0" font-size="10" text-anchor="start" fill="#111" transform="translate(721.7 855.8) scale(0.975 1.07)">Двоеглазов</text>
<text x="0" y="0" font-size="10" text-anchor="start" fill="#111" transform="translate(829.5 857) scale(0.82 1.07)">07.21</text>
<text x="0" y="0" font-size="10" text-anchor="start" fill="#111" transform="translate(658.7 871.5) scale(0.86 1.07)">ГИП</text>
<text x="0" y="0" font-size="10.5" text-anchor="start" fill="#111" transform="translate(724.5 871.5) scale(1 1.07)">Коротаев</text>
<text x="0" y="0" font-size="10" text-anchor="start" fill="#111" transform="translate(829.5 872) scale(0.82 1.07)">07.21</text>
<g stroke="#111" stroke-width="1.05" fill="none" stroke-linecap="round" stroke-linejoin="round"><path d="M783.4,813 L785.3,812.6 L786.5,815.5 L788.2,826.5 M787.2,817 L789.7,811.2 L789.4,827 L791,818 L791.8,811 L791.5,826.5 C792.5,822 794.5,820.5 796,822.5 C796.5,826 793.5,828.5 792.5,826 C792.5,823 795.5,822 797,824.5 L797.8,828 C800,824 806,816 809.5,811.5 C811,813 808,822 805,830 C802.5,838 801.5,842.5 800.6,841.5 C799.8,838 802,830 804.5,826.5 C808,822 813,815 816.8,812 C818,814 814,824 811,831 C808.5,838 807,843 806,841.5 C805.5,836 808,829 810.5,825.5 L816.8,822 M817.5,826.5 L821,823.5 L825,821.5 L828,821.8"/><path d="M787.5,864 C793,858 799,851 803.2,847.2 M802,846.5 L799,857 C801,854 803,852 805,853 L803.5,858 C806,855.5 808,854.5 810,855 C816,851.5 824,848 834,847.5 M795,863 C788,868 783,875 786,877.5 C789,879 797,872 800,866 C801,863 797,864 794,868 C791,873 792,877 795,876 C800,874 806,866 809,861 C811,858 806,861 804,866 C801,872 801,877 804,875 C809,871 815,862 819,855 C815,862 811,871 812,872 C815,869 819,862 822,856 M812,866 L806,876 L802,884"/></g>
<text x="0" y="0" font-size="12.9" text-anchor="middle" fill="#111" transform="translate(1042.5 742) scale(1 1.07)" >11-21П-АР</text>
<text x="0" y="0" font-size="12" text-anchor="start" fill="#111" transform="translate(887.3 764) scale(1 1.07)" >Реконструкция здания склада, расположенное по адресу:</text>
<text x="0" y="0" font-size="12" text-anchor="start" fill="#111" transform="translate(880.6 777.7) scale(1 1.07)" >г. Киров, Ленинский район, ул. Маклина, д. 77 (кадастровый</text>
<text x="0" y="0" font-size="12" text-anchor="start" fill="#111" transform="translate(924.4 792.2) scale(1 1.07)" >номер земельного участка 43:40:000314:457</text>
<text x="0" y="0" font-size="10.7" text-anchor="middle" fill="#111" transform="translate(969.8 826) scale(1 1.07)" font-style="italic">ООО "ИРИДА-43"</text>
<text x="0" y="0" font-size="12.6" text-anchor="start" fill="#111" transform="translate(1072.2 813.5) scale(1 1.07)" >Стадия</text>
<text x="0" y="0" font-size="12.6" text-anchor="start" fill="#111" transform="translate(1124 813.5) scale(1 1.07)" >Лист</text>
<text x="0" y="0" font-size="12.6" text-anchor="start" fill="#111" transform="translate(1169 813.5) scale(1 1.07)" >Листов</text>
<text x="0" y="0" font-size="12.8" text-anchor="middle" fill="#111" transform="translate(1094.2 834.8) scale(1 1.07)" >ЭП</text>
<text x="0" y="0" font-size="12.8" text-anchor="middle" fill="#111" transform="translate(1141.7 834.8) scale(1 1.07)" >12</text>
<text x="0" y="0" font-size="12.8" text-anchor="middle" fill="#111" transform="translate(1188.3 834.8) scale(1 1.07)" >18</text>
<text x="0" y="0" font-size="10.75" text-anchor="middle" fill="#111" transform="translate(969.6 869) scale(1 1.07)" >Маркировочный план 1-го этажа</text>
<text x="0" y="0" font-size="12.7" text-anchor="middle" fill="#111" transform="translate(1148.5 870.4) scale(1 1.07)" >ООО "Альянс"</text>
</svg>
</body></html>
